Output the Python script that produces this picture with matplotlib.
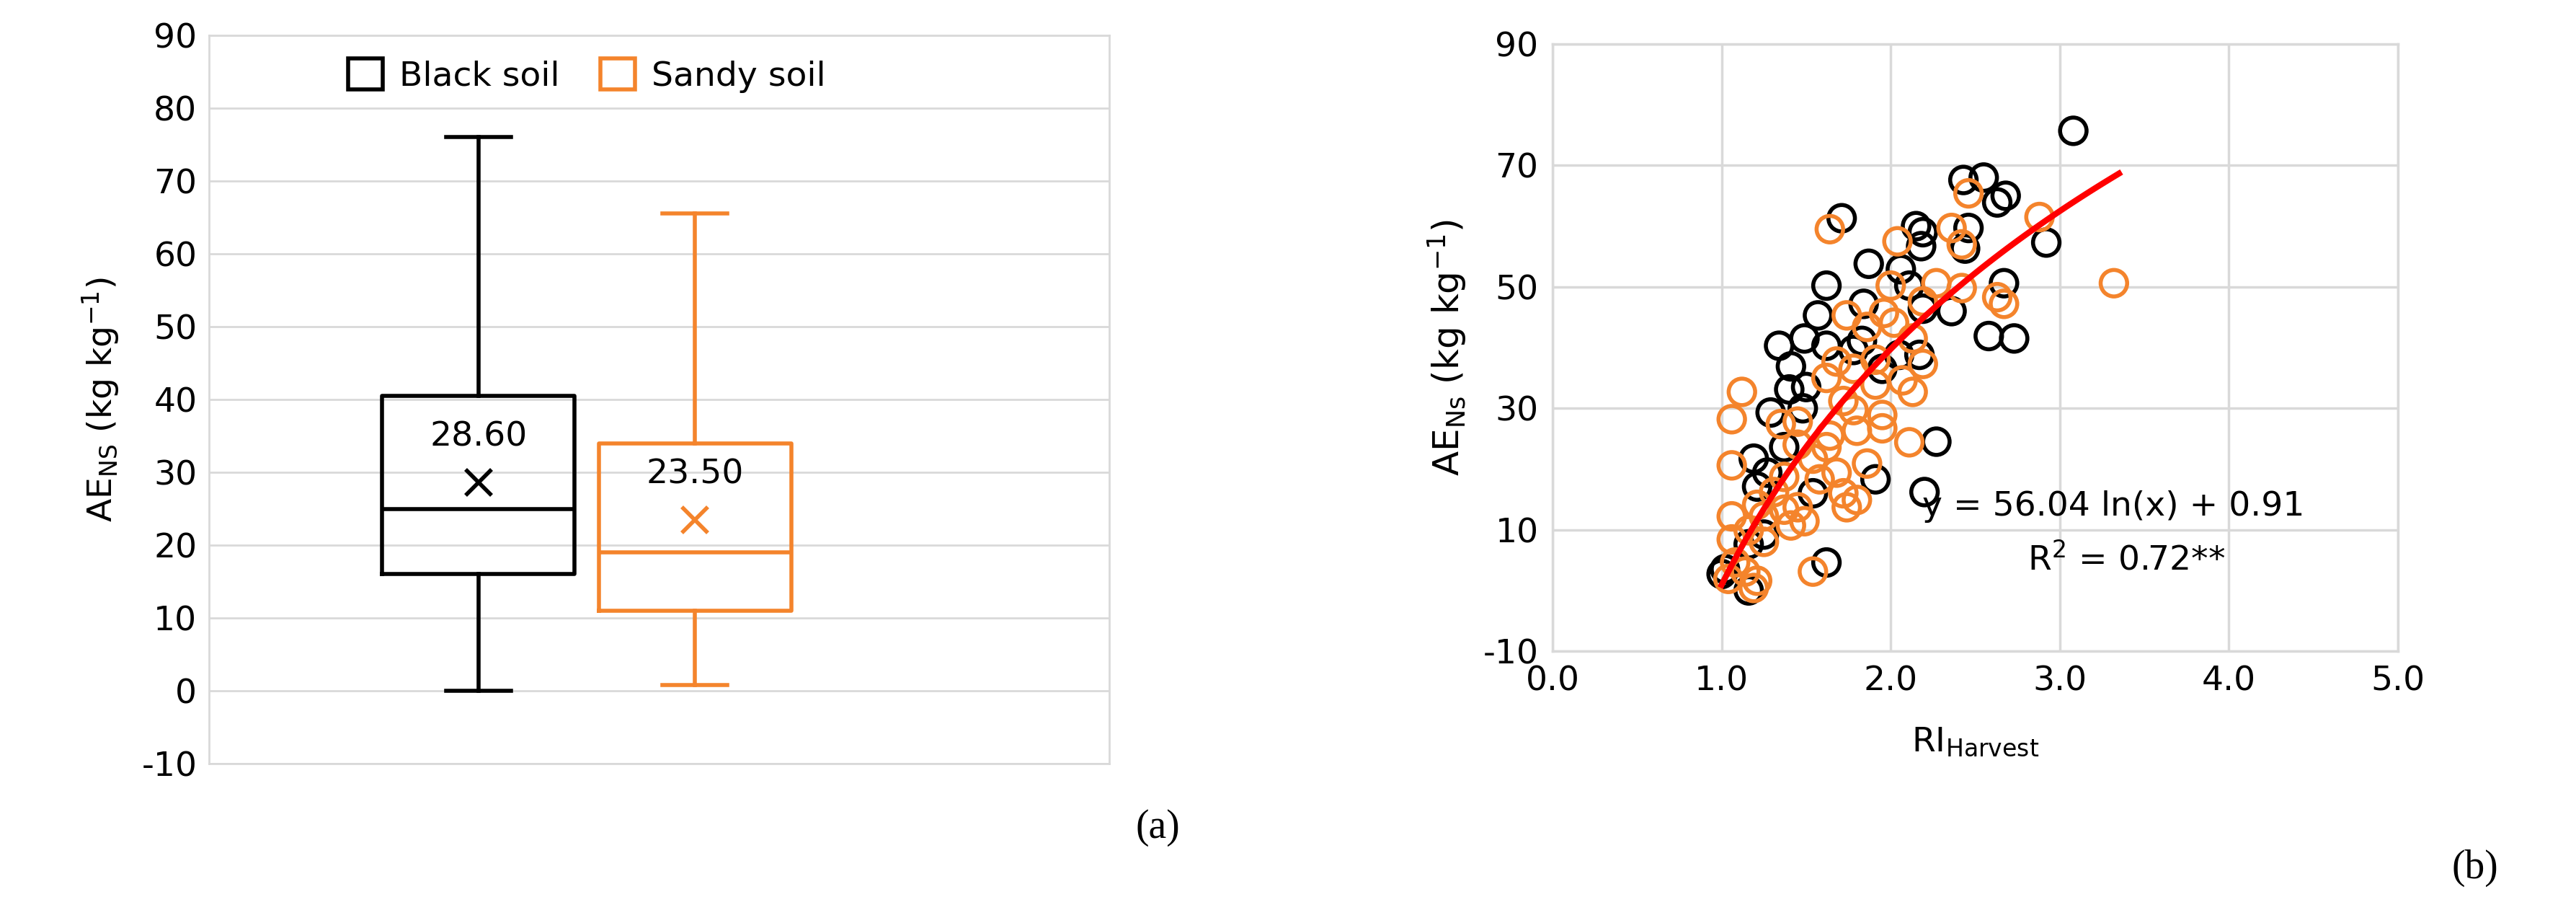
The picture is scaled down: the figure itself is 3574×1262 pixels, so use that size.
import numpy as np
import matplotlib.pyplot as plt
from matplotlib.patches import Patch

groups = ["Black soil", "Sandy soil"]
whis_lo = [0.0, 0.8]
q1 = [16.0, 11.0]
med = [25.0, 19.0]
q3 = [40.5, 34.0]
whis_hi = [76.0, 65.5]
means = [28.60, 23.50]
colors = ["black", "#F4842C"]

black_x = [3.08,2.43,2.55,2.68,2.63,1.71,2.15,2.19,2.18,2.46,2.44,2.92,1.87,1.62,2.06,2.67,2.36,2.58,2.73,1.57,1.49,1.62,1.34,1.41,1.40,1.84,1.83,2.05,2.17,1.29,1.37,1.19,1.21,1.27,1.91,2.27,2.20,1.62,1.02,1.00,1.16,1.54,1.50,1.48,1.78,1.95,2.11,2.19,1.16,1.25]
black_y = [75.7,67.6,68.0,65.0,63.9,61.3,60.0,59.0,56.7,59.7,56.3,57.3,53.8,50.2,52.9,50.6,46.0,41.9,41.5,45.3,41.5,40.3,40.3,36.9,33.1,47.2,41.1,38.8,38.8,29.3,23.6,21.7,17.1,19.4,18.3,24.5,16.2,4.6,3.5,2.7,0.0,16.0,33.5,30.0,39.6,36.5,50.2,46.4,7.6,9.2]
sandy_x = [2.46,1.64,2.04,2.36,2.42,2.88,3.32,2.27,2.42,2.63,2.67,2.00,1.96,2.02,1.74,1.86,2.19,2.13,2.19,2.07,2.13,1.68,1.78,1.62,1.91,1.91,1.72,1.78,1.12,1.06,1.35,1.45,1.95,1.80,1.95,2.11,1.64,1.62,1.06,1.54,1.58,1.68,1.72,1.80,1.74,1.86,1.37,1.25,1.45,1.49,1.41,1.21,1.16,1.25,1.06,1.06,1.08,1.14,1.04,1.21,1.19,1.54,1.37,1.31,1.45]
sandy_y = [65.4,59.5,57.5,59.7,57.0,61.5,50.6,50.6,49.8,48.3,47.2,50.2,45.7,44.1,45.3,43.4,47.6,41.5,37.3,34.6,32.7,37.7,36.5,35.0,38.0,33.9,31.2,29.7,32.7,28.2,27.4,27.8,28.9,26.3,26.7,24.4,25.5,23.6,20.6,21.7,18.3,19.4,16.0,14.9,13.7,20.9,13.3,12.2,13.7,11.4,10.7,14.1,9.9,8.0,12.2,8.4,4.6,3.1,1.9,1.6,0.4,3.1,18.7,16.2,24.0]
fit_a, fit_b = 56.04, 0.91
yticks = [-10, 10, 30, 50, 70, 90]

W, H = 3574, 1262
plt.rcParams['font.family'] = ['DejaVu Sans']
plt.rcParams['axes.unicode_minus'] = False
fig = plt.figure(figsize=(W/100, H/100), dpi=100)
fs = 34
grid_c = "#D9D9D9"

# (a) box plot
axa = fig.add_axes([290/W, 1-1059/H, (1539-290)/W, (1059-49)/H])
pos = [1, 2]
for i in range(2):
    c = colors[i]
    st = dict(med=med[i], q1=q1[i], q3=q3[i], whislo=whis_lo[i], whishi=whis_hi[i], mean=means[i], fliers=[], label=groups[i])
    axa.bxp([st], positions=[pos[i]], widths=0.89, showmeans=False,
            boxprops=dict(color=c, lw=4), medianprops=dict(color=c, lw=4),
            whiskerprops=dict(color=c, lw=4), capprops=dict(color=c, lw=4), capwidths=0.3)
    axa.plot(pos[i], means[i], marker='x', ms=26, mew=4, color=c, ls='none')
    axa.text(pos[i], means[i]+4, f"{means[i]:.2f}", ha='center', va='bottom', fontsize=fs)
axa.set_xlim(1-1.244, 1+2.913)
axa.set_ylim(-10, 90)
axa.set_yticks(range(-10, 91, 10))
axa.set_xticks([])
axa.yaxis.grid(True, color=grid_c, lw=2)
axa.set_axisbelow(True)
for s in axa.spines.values():
    s.set_color(grid_c); s.set_linewidth(2)
axa.tick_params(axis='y', length=0, labelsize=fs, pad=12)
axa.set_ylabel("AE$_{\\mathrm{NS}}$ (kg kg$^{-1}$)", fontsize=fs, labelpad=20)
h = [Patch(facecolor='white', edgecolor=c, lw=4) for c in colors]
axa.legend(h, groups, loc='upper center', bbox_to_anchor=(0.42, 1.01), ncol=2, frameon=False,
           fontsize=fs, handlelength=1.0, handleheight=1.0, columnspacing=1.2, handletextpad=0.5)
fig.text(1606/W, 1-1148/H, "(a)", fontsize=40, family='Liberation Serif', ha='center', va='center')

# (b) scatter
axb = fig.add_axes([2154/W, 1-903/H, (3327-2154)/W, (903-61)/H])
axb.scatter(black_x, black_y, s=700, facecolors='none', edgecolors='black', linewidths=4, zorder=3)
axb.scatter(sandy_x, sandy_y, s=700, facecolors='none', edgecolors='#F4842C', linewidths=4, zorder=4)
xf = np.linspace(1.0, 3.35, 100)
axb.plot(xf, fit_a*np.log(xf)+fit_b, color='red', lw=6, zorder=5)
axb.set_xlim(0, 5); axb.set_ylim(-10, 90)
xt = np.arange(0, 5.1, 1.0)
axb.set_xticks(xt)
axb.set_xticklabels([f"{v:.1f}" for v in xt])
axb.set_yticks(yticks)
axb.grid(True, color=grid_c, lw=2.5)
axb.set_axisbelow(True)
for s in axb.spines.values():
    s.set_color(grid_c); s.set_linewidth(2.5)
axb.tick_params(length=0, labelsize=fs, pad=14)
axb.set_ylabel("AE$_{\\mathrm{Ns}}$ (kg kg$^{-1}$)", fontsize=36, labelpad=14)
axb.set_xlabel("RI$_{\\mathrm{Harvest}}$", fontsize=fs, labelpad=28)
axb.text(4.45, 13.8, f"y = {fit_a:.2f} ln(x) + {fit_b:.2f}", fontsize=fs, ha='right', va='center', zorder=6)
axb.text(3.98, 5.0, "R$^2$ = 0.72**", fontsize=fs, ha='right', va='center', zorder=6)
fig.text(3434/W, 1-1204/H, "(b)", fontsize=40, family='Liberation Serif', ha='center', va='center')

fig.savefig("out.png", dpi=100, facecolor='white')
